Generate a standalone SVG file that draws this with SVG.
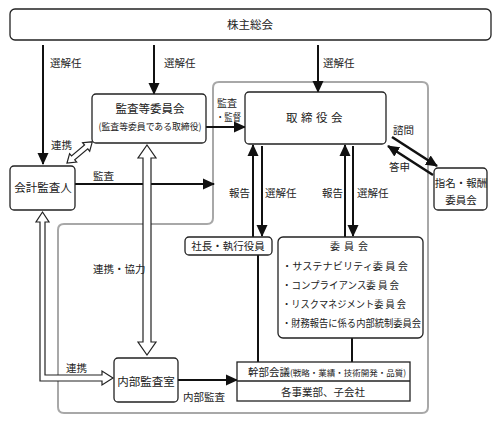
<svg xmlns="http://www.w3.org/2000/svg" width="497" height="426" viewBox="0 0 497 426">
<defs>
<marker id="ah" markerUnits="userSpaceOnUse" markerWidth="12" markerHeight="12" viewBox="0 0 12 12" refX="11" refY="6" orient="auto">
<path d="M0,0.5 L12,6 L0,11.5 Z" fill="#111"/>
</marker>
<style>
text{font-family:"Noto Sans CJK JP","Noto Sans",sans-serif;fill:#222;}
.box{fill:#fff;stroke:#222;stroke-width:1.3;}
.t12{font-size:11.5px;text-anchor:middle;}
.t11{font-size:10.5px;text-anchor:middle;}
.lbl{font-size:10.5px;}
.arr{stroke:#111;stroke-width:2;fill:none;marker-end:url(#ah);}
.arrt{stroke:#111;stroke-width:2.6;fill:none;marker-end:url(#ah);}
.ln{stroke:#111;stroke-width:2;fill:none;}
.hol{fill:#fff;stroke:#222;stroke-width:1.2;stroke-linejoin:miter;}
</style>
</defs>
<rect width="497" height="426" fill="#fff"/>

<path d="M219,82 H422 Q428,82 428,88 V407 Q428,413 422,413 H64 Q58,413 58,407 V230 Q58,224 64,224 H207 Q213,224 213,218 V88 Q213,82 219,82 Z" fill="none" stroke="#a8a8a8" stroke-width="2"/>

<g id="connectors">
<line class="arr" x1="43" y1="45" x2="43" y2="164"/>
<line class="arr" x1="154" y1="45" x2="154" y2="94"/>
<line class="arr" x1="318" y1="45" x2="318" y2="92"/>
<line class="arr" x1="206" y1="127" x2="245" y2="127"/>
<line class="arr" x1="75" y1="184" x2="214" y2="184"/>
<line class="arr" x1="253" y1="237" x2="253" y2="145"/>
<line class="arr" x1="262" y1="146" x2="262" y2="236"/>
<line class="arr" x1="345" y1="237" x2="345" y2="145"/>
<line class="arr" x1="353" y1="146" x2="353" y2="236"/>
<line class="arrt" x1="392" y1="137" x2="437" y2="166"/>
<line class="arrt" x1="433" y1="175" x2="388" y2="146"/>
<line class="ln" x1="258" y1="255" x2="258" y2="362"/>
<line class="ln" x1="352" y1="338" x2="352" y2="362"/>
<line class="arr" x1="178" y1="380" x2="237" y2="380"/>
<polygon class="hol" points="147,145 156,158 151,158 151,342 156,342 147,355 138,342 143,342 143,158 138,158"/>
<polygon class="hol" points="42.5,212 49,222 45,222 45,375 102,375 102,371 113,378 102,385 102,381 40,381 40,222 36,222"/>
<polygon class="hol" transform="translate(67,163) rotate(-40)" points="0,0 8,-5.5 8,-2.5 25,-2.5 25,-5.5 33,0 25,5.5 25,2.5 8,2.5 8,5.5"/>
</g>

<g id="labels">
<text class="lbl" x="50" y="67">選解任</text>
<text class="lbl" x="164" y="67">選解任</text>
<text class="lbl" x="323" y="67">選解任</text>
<text x="217" y="107" font-size="10">監査</text>
<text x="216" y="121" font-size="10" textLength="25" lengthAdjust="spacingAndGlyphs">・監督</text>
<text class="lbl" x="51" y="149">連携</text>
<text class="lbl" x="93" y="180">監査</text>
<text class="lbl" x="229" y="197">報告</text>
<text class="lbl" x="265" y="197">選解任</text>
<text class="lbl" x="322" y="197">報告</text>
<text class="lbl" x="357" y="197">選解任</text>
<text class="lbl" x="393" y="134">諮問</text>
<text class="lbl" x="389" y="171">答申</text>
<text class="lbl" x="93" y="273" font-size="10">連携・協力</text>
<text class="lbl" x="66" y="372">連携</text>
<text class="lbl" x="183" y="401">内部監査</text>
</g>

<g id="shareholders">
<rect class="box" x="10" y="9" width="481" height="31" rx="5"/>
<text class="t12" x="250" y="29">株主総会</text>
</g>

<g id="audit-committee">
<rect class="box" x="92" y="94" width="114" height="49" rx="4"/>
<text class="t12" x="150" y="113">監査等委員会</text>
<text x="150" y="130" font-size="9.5" text-anchor="middle" textLength="103" lengthAdjust="spacingAndGlyphs">(監査等委員である取締役)</text>
</g>

<g id="board">
<rect class="box" x="245" y="92" width="141" height="52" rx="4"/>
<text class="t12" x="316" y="122" letter-spacing="3.5">取締役会</text>
</g>

<g id="accounting-auditor">
<rect class="box" x="10" y="166" width="65" height="44" rx="4"/>
<text class="t12" x="43" y="192">会計監査人</text>
</g>

<g id="nomination">
<rect class="box" x="434" y="168" width="53" height="42" rx="4"/>
<text class="t11" x="461" y="187">指名・報酬</text>
<text class="t11" x="461" y="204">委員会</text>
</g>

<g id="president">
<rect class="box" x="185" y="237" width="87" height="18" rx="4"/>
<text class="t11" x="228" y="250">社長・執行役員</text>
</g>

<g id="committees">
<rect class="box" x="278" y="237" width="145" height="101" rx="5"/>
<text x="351" y="250" font-size="10" text-anchor="middle" letter-spacing="4">委員会</text>
<text x="282" y="270" font-size="10" textLength="126" lengthAdjust="spacingAndGlyphs">・サステナビリティ委 員 会</text>
<text x="282" y="289" font-size="10" textLength="117" lengthAdjust="spacingAndGlyphs">・コンプライアンス委 員 会</text>
<text x="282" y="308" font-size="10" textLength="124" lengthAdjust="spacingAndGlyphs">・リスクマネジメント委 員 会</text>
<text x="282" y="327" font-size="10" textLength="139" lengthAdjust="spacingAndGlyphs">・財務報告に係る内部統制委員会</text>
</g>

<g id="internal-audit">
<rect class="box" x="114" y="358" width="64" height="44" rx="4"/>
<text class="t12" x="146" y="386">内部監査室</text>
</g>

<g id="executive-meeting">
<rect class="box" x="237" y="362" width="173" height="39"/>
<line x1="237" y1="381" x2="410" y2="381" stroke="#222" stroke-width="1.3"/>
<text x="248" y="376" font-size="10.5">幹部会議<tspan font-size="8.5">(戦略・業績・技術開発・品質)</tspan></text>
<text class="t11" x="323" y="396">各事業部、子会社</text>
</g>
</svg>
